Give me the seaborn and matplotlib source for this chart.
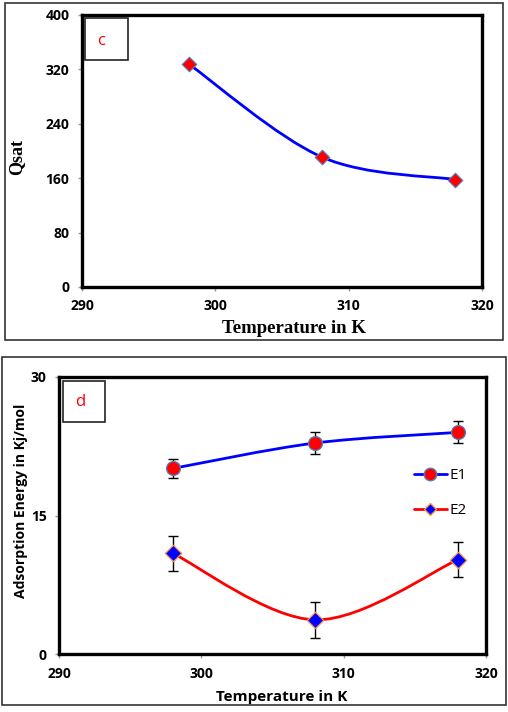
import numpy as np
import matplotlib
matplotlib.use("Agg")
import matplotlib.pyplot as plt
from matplotlib.path import Path
from matplotlib.patches import PathPatch, Rectangle
from matplotlib.lines import Line2D
import seaborn as sns
import pandas as pd

# ---- data ----
temps = [298, 308, 318]
qsat = [328, 191, 158]
e1 = [20.1, 22.85, 24.0]
e1_err = [1.0, 1.2, 1.2]
e2 = [10.9, 3.7, 10.2]
e2_err = [1.9, 1.95, 1.9]
x_ticks = [290, 300, 310, 320]
qsat_ticks = [0, 80, 160, 240, 320, 400]
energy_ticks = [0, 15, 30]

sns.set_theme(style="white")
SANS = ['Open Sans', 'DejaVu Sans']
plt.rcParams['font.family'] = SANS
plt.rcParams['text.color'] = 'black'
plt.rcParams['axes.labelcolor'] = 'black'
plt.rcParams['xtick.color'] = 'black'
plt.rcParams['ytick.color'] = 'black'

W, H = 508, 712
fig = plt.figure(figsize=(W / 100, H / 100), dpi=100)


def fx(px):
    return px / W


def fy(py):
    return 1 - py / H


def smooth_path(xs, ys):
    """Excel-style smoothed (Bezier) curve through the given data points."""
    pts = np.column_stack([xs, ys]).astype(float)
    n = len(pts)
    verts = [pts[0]]
    codes = [Path.MOVETO]
    for i in range(n - 1):
        p0 = pts[i - 1] if i > 0 else pts[i]
        p1 = pts[i]
        p2 = pts[i + 1]
        p3 = pts[i + 2] if i + 2 < n else pts[i + 1]
        c1 = p1 + (p2 - p0) / 6.0
        c2 = p2 - (p3 - p1) / 6.0
        verts += [c1, c2, p2]
        codes += [Path.CURVE4] * 3
    return Path(verts, codes)


def style_axes(ax):
    for s in ax.spines.values():
        s.set_visible(True)
        s.set_color('black')
        s.set_linewidth(2.4)
    ax.tick_params(axis='both', which='both', direction='out', length=3,
                   width=1, color='#999999', labelcolor='black', left=True, bottom=True,
                   labelsize=10, pad=6)
    for lab in ax.get_xticklabels() + ax.get_yticklabels():
        lab.set_fontweight('bold')
        lab.set_family(SANS)
    ax.grid(False)
    ax.set_facecolor('white')


# outer frames
fig.patches.append(Rectangle((fx(5), fy(340)), fx(498), 337 / H, transform=fig.transFigure,
                             fill=False, edgecolor='#333333', linewidth=1.2))
fig.patches.append(Rectangle((fx(2), fy(705)), fx(504), 348 / H, transform=fig.transFigure,
                             fill=False, edgecolor='#333333', linewidth=1.2))

# ---- top panel (c) ----
ax1 = fig.add_axes([fx(82), fy(287), fx(400), 272 / H])
df1 = pd.DataFrame({'T': temps, 'Q': qsat})
ax1.add_patch(PathPatch(smooth_path(temps, qsat), facecolor='none', edgecolor='#0000FF',
                        linewidth=2.0, zorder=2))
sns.scatterplot(data=df1, x='T', y='Q', ax=ax1, marker='D', s=55, color='#FF0000',
                edgecolor='#4F81BD', linewidth=0.8, zorder=3, legend=False)
ax1.set_xlim(290, 320)
ax1.set_ylim(0, 400)
ax1.set_xticks(x_ticks)
ax1.set_yticks(qsat_ticks)
style_axes(ax1)
ax1.set_xlabel('Temperature in K', family=['Liberation Serif'], fontweight='bold',
               fontsize=13.5, color='black')
ax1.set_ylabel('Qsat', family=['Liberation Serif'], fontweight='bold', fontsize=13,
               color='black')
ax1.xaxis.set_label_coords(0.529, -0.151)
ax1.xaxis.label.set_verticalalignment('center')
ax1.yaxis.set_label_coords(-0.1625, 0.478)
ax1.yaxis.label.set_verticalalignment('center')
fig.patches.append(Rectangle((fx(85), fy(60)), fx(43), 42 / H, transform=fig.transFigure,
                             facecolor='white', edgecolor='#222222', linewidth=1.2, zorder=5))
fig.text(fx(101), fy(41), 'c', color='#FF0000', fontsize=12, ha='center', va='center',
         family=SANS, zorder=6)

# ---- bottom panel (d) ----
ax2 = fig.add_axes([fx(59), fy(654), fx(427), 277 / H])
df2 = pd.DataFrame({'T': temps, 'E1': e1, 'E2': e2})
ax2.add_patch(PathPatch(smooth_path(temps, e1), facecolor='none', edgecolor='#0000FF',
                        linewidth=2.0, zorder=2))
ax2.add_patch(PathPatch(smooth_path(temps, e2), facecolor='none', edgecolor='#FF0000',
                        linewidth=2.0, zorder=2))
ax2.errorbar(temps, e1, yerr=e1_err, fmt='none', ecolor='black', elinewidth=1,
             capsize=3.5, capthick=1, zorder=2.5)
ax2.errorbar(temps, e2, yerr=e2_err, fmt='none', ecolor='black', elinewidth=1,
             capsize=3.5, capthick=1, zorder=2.5)
sns.scatterplot(data=df2, x='T', y='E1', ax=ax2, marker='o', s=100, color='#FF0000',
                edgecolor='#4F81BD', linewidth=0.9, zorder=3, legend=False)
sns.scatterplot(data=df2, x='T', y='E2', ax=ax2, marker='D', s=70, color='#0000FF',
                edgecolor='#F79646', linewidth=0.9, zorder=3, legend=False)
ax2.set_xlim(290, 320)
ax2.set_ylim(0, 30)
ax2.set_xticks(x_ticks)
ax2.set_yticks(energy_ticks)
style_axes(ax2)
ax2.set_xlabel('Temperature in K', fontweight='bold', fontsize=11,
               color='black', family=SANS)
ax2.set_ylabel('Adsorption Energy in Kj/mol', fontweight='bold', fontsize=10,
               color='black', family=SANS)
ax2.xaxis.set_label_coords(0.522, -0.155)
ax2.xaxis.label.set_verticalalignment('center')
ax2.yaxis.set_label_coords(-0.089, 0.552)
ax2.yaxis.label.set_verticalalignment('center')

handles = [
    Line2D([], [], color='#0000FF', lw=2.0, marker='o', markersize=9,
           markerfacecolor='#FF0000', markeredgecolor='#4F81BD'),
    Line2D([], [], color='#FF0000', lw=2.0, marker='D', markersize=6,
           markerfacecolor='#0000FF', markeredgecolor='#F79646'),
]
leg = ax2.legend(handles, ['E1', 'E2'], loc='center left',
                 bbox_to_anchor=((406 - 59) / 427, (654 - 493) / 277),
                 frameon=False, fontsize=11, handlelength=2.2, handletextpad=0.15,
                 labelspacing=1.3, borderpad=0)
for t in leg.get_texts():
    t.set_color('black')

fig.patches.append(Rectangle((fx(63), fy(422)), fx(42), 41 / H, transform=fig.transFigure,
                             facecolor='white', edgecolor='#222222', linewidth=1.2, zorder=5))
fig.text(fx(80), fy(402), 'd', color='#FF0000', fontsize=12, ha='center', va='center',
         family=SANS, zorder=6)

fig.savefig('out.png', dpi=100, facecolor='white')
